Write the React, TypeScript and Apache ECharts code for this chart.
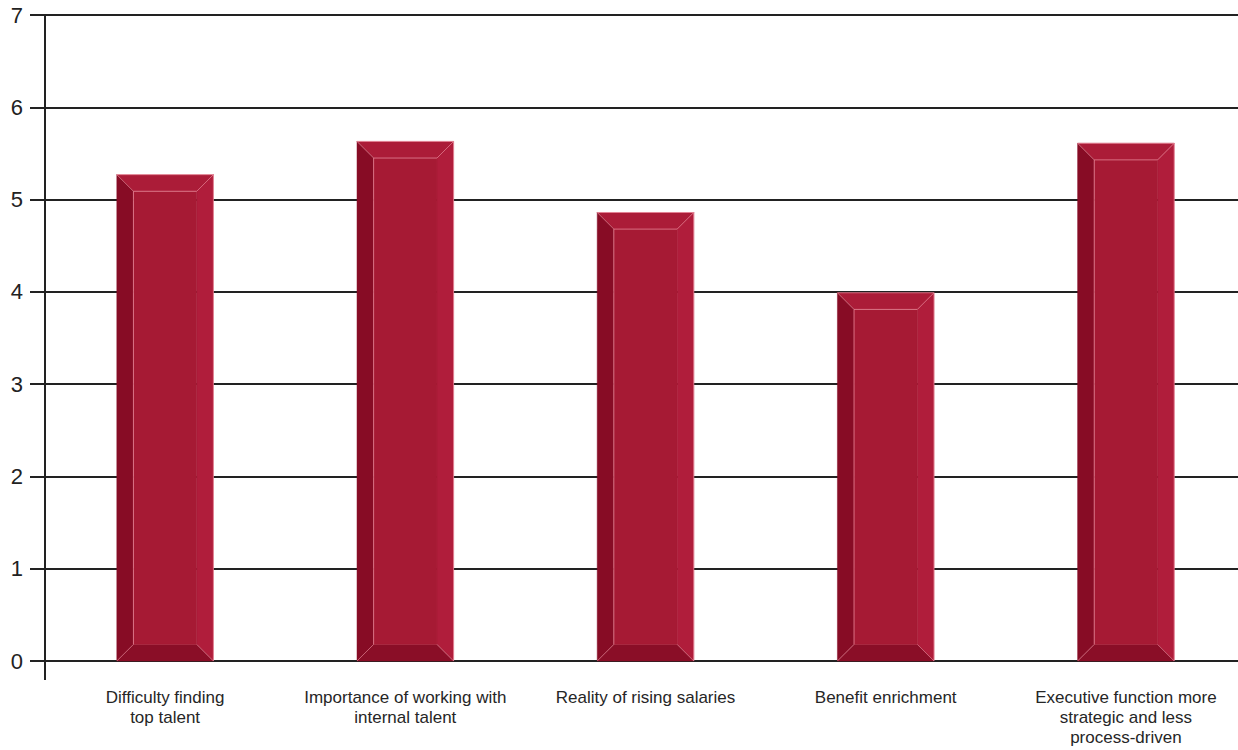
import React, { useEffect, useRef } from "react";
import * as echarts from "echarts";

const categories: string[] = [
  "Difficulty finding\ntop talent",
  "Importance of working with\ninternal talent",
  "Reality of rising salaries",
  "Benefit enrichment",
  "Executive function more\nstrategic and less\nprocess-driven",
];
const values: number[] = [5.27, 5.63, 4.86, 3.99, 5.61];
const yTicks = { min: 0, max: 7, interval: 1 };

const FACE = "#A61A34";
const TOP = "#AB1C38";
const LEFT = "#870C25";
const BOTTOM = "#8A0E27";
const RIGHT = "#B01D3B";
const HIGHLIGHT = "rgba(240,150,165,0.7)";

export default function App() {
  const ref = useRef<HTMLDivElement>(null);
  useEffect(() => {
    if (!ref.current) return;
    const chart = echarts.init(ref.current, undefined, { renderer: "svg" });
    chart.setOption({
      animation: false,
      backgroundColor: "#ffffff",
      grid: { left: 45, top: 15, width: 1201, bottom: 89, containLabel: false },
      xAxis: {
        type: "category",
        data: categories,
        axisLine: { show: true, lineStyle: { color: "#222", width: 2 } },
        axisTick: { show: false },
        axisLabel: {
          color: "#262626",
          fontSize: 17,
          lineHeight: 20,
          margin: 26,
          fontFamily: "Liberation Sans, Arial, sans-serif",
          interval: 0,
        },
      },
      yAxis: {
        type: "value",
        min: yTicks.min,
        max: yTicks.max,
        interval: yTicks.interval,
        axisLine: { show: true, lineStyle: { color: "#222", width: 2 } },
        axisTick: { show: true, length: 15, lineStyle: { color: "#222", width: 2 } },
        splitLine: { show: true, lineStyle: { color: "#222", width: 2 } },
        axisLabel: {
          color: "#222",
          fontSize: 22,
          margin: 22,
          fontFamily: "Liberation Sans, Arial, sans-serif",
        },
      },
      graphic: [
        {
          type: "line",
          shape: { x1: 45, y1: 661, x2: 45, y2: 680 },
          style: { stroke: "#222", lineWidth: 2 },
        },
      ],
      series: [
        {
          type: "custom",
          data: values.map((v, i) => [i, v]),
          renderItem: (params: any, api: any) => {
            const idx = api.value(0);
            const v = api.value(1);
            const top = api.coord([idx, v]);
            const base = api.coord([idx, 0]);
            const bw = api.size([1, 0])[0] * 0.402;
            const x0 = top[0] - bw / 2;
            const x1 = top[0] + bw / 2;
            const y0 = top[1];
            const y1 = base[1];
            const b = bw * 0.172;
            const ix0 = x0 + b;
            const ix1 = x1 - b;
            const iy0 = y0 + b;
            const iy1 = y1 - b;
            const poly = (pts: number[][], fill: string) => ({
              type: "polygon",
              shape: { points: pts },
              style: { fill, stroke: fill, lineWidth: 0.5 },
            });
            const line = (a: number[], c: number[], w = 1) => ({
              type: "line",
              shape: { x1: a[0], y1: a[1], x2: c[0], y2: c[1] },
              style: { stroke: HIGHLIGHT, lineWidth: w },
            });
            return {
              type: "group",
              children: [
                poly([[x0, y0], [x1, y0], [ix1, iy0], [ix0, iy0]], TOP),
                poly([[x0, y0], [ix0, iy0], [ix0, iy1], [x0, y1]], LEFT),
                poly([[x1, y0], [x1, y1], [ix1, iy1], [ix1, iy0]], RIGHT),
                poly([[x0, y1], [ix0, iy1], [ix1, iy1], [x1, y1]], BOTTOM),
                poly([[ix0, iy0], [ix1, iy0], [ix1, iy1], [ix0, iy1]], FACE),
                line([x0, y0], [x1, y0]),
                line([x1, y0], [x1, y1]),
                line([ix0, iy0], [ix1, iy0]),
                line([ix0, iy0], [ix0, iy1]),
                line([x0, y0], [ix0, iy0], 0.8),
                line([x1, y0], [ix1, iy0], 0.8),
                line([x0, y1], [ix0, iy1], 0.8),
                line([x1, y1], [ix1, iy1], 0.8),
              ],
            };
          },
        },
      ],
    });
    return () => chart.dispose();
  }, []);
  return (
    <div
      style={{
        position: "absolute",
        left: 0,
        top: 0,
        width: 1238,
        height: 750,
        overflow: "hidden",
        background: "#fff",
      }}
    >
      <div ref={ref} style={{ width: 1270, height: 750 }} />
    </div>
  );
}
